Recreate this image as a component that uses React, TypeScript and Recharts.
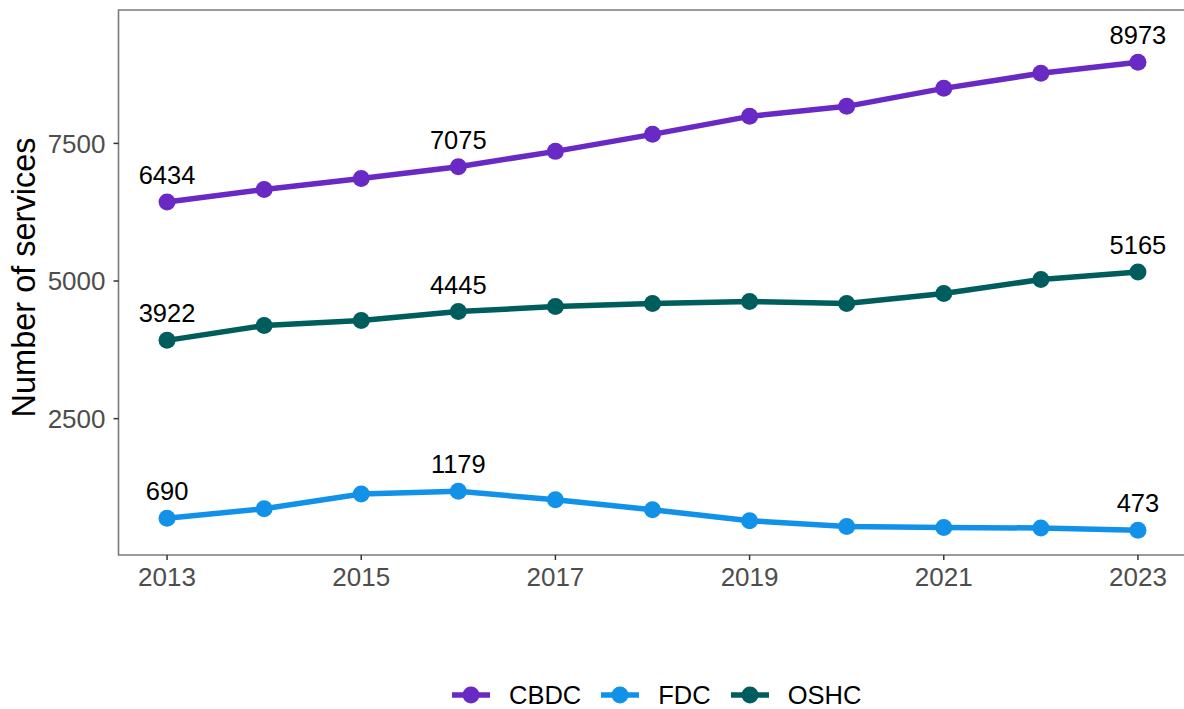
import { LineChart, Line, XAxis, YAxis, ReferenceArea, LabelList } from 'recharts'

const years = [2013, 2014, 2015, 2016, 2017, 2018, 2019, 2020, 2021, 2022, 2023]
const cbdc = [6434, 6664, 6864, 7075, 7355, 7664, 7991, 8173, 8500, 8773, 8973]
const fdc = [690, 864, 1131, 1179, 1027, 845, 645, 542, 524, 513, 473]
const oshc = [3922, 4191, 4282, 4445, 4536, 4591, 4627, 4591, 4773, 5027, 5165]
const labelledYears = [2013, 2016, 2023]
const xTicks = [2013, 2015, 2017, 2019, 2021, 2023]
const yTicks = [2500, 5000, 7500]

const series = [
  { key: 'CBDC', color: '#6929c4' },
  { key: 'FDC', color: '#1192e8' },
  { key: 'OSHC', color: '#005d5d' },
]

const rows = years.map((year, i) => ({ year, CBDC: cbdc[i], FDC: fdc[i], OSHC: oshc[i] }))

const FONT = '"Liberation Sans", Arial, sans-serif'

const Dot = (color: string) => (props: any) => {
  const { cx, cy, index } = props
  return <circle key={index} cx={cx} cy={cy} r={8.5} fill={color} />
}

const valueLabel = (props: any) => {
  const { x, y, value, index } = props
  if (!labelledYears.includes(years[index])) return null
  return (
    <text key={index} x={x} y={y - 18} textAnchor="middle" fontSize={25.5} fill="#000" fontFamily={FONT}>
      {value}
    </text>
  )
}

const YTitle = () => (
  <text
    transform="translate(34.5,277.5) rotate(-90)"
    textAnchor="middle"
    fontSize={32.5}
    fill="#000"
    fontFamily={FONT}
  >
    Number of services
  </text>
)

function LegendBox() {
  return (
    <div
      style={{
        position: 'absolute',
        left: 452,
        top: 681,
        display: 'flex',
        alignItems: 'center',
        fontFamily: FONT,
        fontSize: 25.5,
        color: '#000',
        height: 28,
      }}
    >
      {series.map((s) => (
        <div key={s.key} style={{ display: 'flex', alignItems: 'center', marginRight: 20 }}>
          <svg width={38} height={20}>
            <line x1={0} y1={10} x2={38} y2={10} stroke={s.color} strokeWidth={5.5} />
            <circle cx={19} cy={10} r={8.5} fill={s.color} />
          </svg>
          <span style={{ marginLeft: 19, lineHeight: '28px' }}>{s.key}</span>
        </div>
      ))}
    </div>
  )
}

export default function App() {
  return (
    <div style={{ position: 'absolute', left: 0, top: 0, width: 1184, height: 709, overflow: 'hidden', background: '#fff' }}>
      <LineChart width={1187} height={709} data={rows} margin={{ top: 10, right: 0.5, bottom: 0, left: 0 }}>
        <XAxis
          dataKey="year"
          type="number"
          domain={[2012.5, 2023.5]}
          ticks={xTicks}
          axisLine={false}
          tickLine={{ stroke: '#333', strokeWidth: 1.5 }}
          tickSize={5}
          tickMargin={8}
          height={154}
          tick={{ fontSize: 26, fill: '#4d4d4d', fontFamily: FONT }}
        />
        <YAxis
          type="number"
          domain={[23, 9923]}
          ticks={yTicks}
          axisLine={false}
          tickLine={{ stroke: '#333', strokeWidth: 1.5 }}
          tickSize={5}
          tickMargin={8}
          width={118.5}
          tick={{ fontSize: 26, fill: '#4d4d4d', fontFamily: FONT }}
          label={<YTitle />}
        />
        <ReferenceArea x1={2012.5} x2={2023.5} y1={23} y2={9923} fill="none" stroke="#7a7a7a" strokeWidth={1.6} />
        {series.map((s) => (
          <Line
            key={s.key}
            dataKey={s.key}
            stroke={s.color}
            strokeWidth={5.5}
            dot={Dot(s.color)}
            activeDot={false}
            isAnimationActive={false}
          >
            <LabelList dataKey={s.key} content={valueLabel} />
          </Line>
        ))}
      </LineChart>
      <LegendBox />
    </div>
  )
}
